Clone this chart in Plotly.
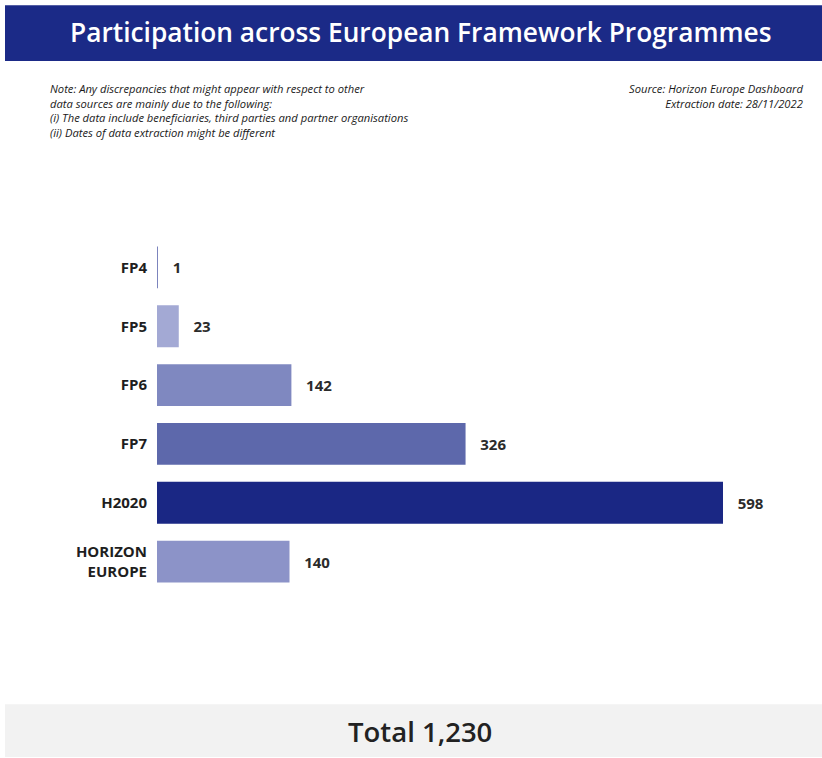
import plotly.graph_objects as go

programmes = ["FP4", "FP5", "FP6", "FP7", "H2020", "HORIZON<br>EUROPE"]
participations = [1, 23, 142, 326, 598, 140]
bar_colors = ["#7c84bd", "#a3a9d4", "#7f88c0", "#5d68ab", "#1a2784", "#8c93c8"]
total_label = "Total 1,230"
title_text = "Participation across European Framework Programmes"
note_lines = [
    "Note: Any discrepancies that might appear with respect to other",
    "data sources are mainly due to the following:",
    "(i) The data include beneficiaries, third parties and partner organisations",
    "(ii) Dates of data extraction might be different",
]
source_lines = ["Source: Horizon Europe Dashboard", "Extraction date: 28/11/2022"]

W, H = 822, 758
L, R, T, B = 157, 22, 237.5, 166.5
PW = W - L - R
PH = H - T - B
XMAX = 598 * PW / (723 - 157)


def xp(px):
    return (px - L) / PW


def yp(py):
    return (H - B - py) / PH


fig = go.Figure(
    go.Bar(
        x=participations,
        y=programmes,
        orientation="h",
        marker=dict(color=bar_colors, line=dict(width=0)),
        text=participations,
        texttemplate="\u00a0\u00a0\u00a0%{x}",
        textposition="outside",
        textfont=dict(family="Open Sans", size=15, color="#2b2b2b", weight=700),
        cliponaxis=False,
        hoverinfo="skip",
    )
)

font_note = "Open Sans, sans-serif"
note_size = 11.2
annotations = [
    dict(x=xp(421), y=yp(31), text=title_text,
         font=dict(family="Open Sans", size=26.3, color="white", weight=600),
         xanchor="center", yanchor="middle"),
    dict(x=xp(420), y=yp(732), text=total_label,
         font=dict(family="Open Sans", size=27.5, color="#222222", weight=600),
         xanchor="center", yanchor="middle"),
    dict(x=xp(48), y=yp(78), text="<br>".join("<i>" + s + "</i>" for s in note_lines),
         xanchor="left", yanchor="top", align="left",
         font=dict(family=font_note, size=note_size, color="#1a1a1a")),
    dict(x=xp(805), y=yp(78), text="<br>".join("<i>" + s + "</i>" for s in source_lines),
         xanchor="right", yanchor="top", align="right",
         font=dict(family=font_note, size=note_size, color="#1a1a1a")),
]
for a in annotations:
    a.update(xref="paper", yref="paper", showarrow=False)

shapes = [
    dict(type="rect", xref="paper", yref="paper", x0=xp(5), x1=xp(822), y0=yp(60), y1=yp(4),
         fillcolor="#1b2a87", line=dict(width=0), layer="below"),
    dict(type="rect", xref="paper", yref="paper", x0=xp(5), x1=xp(822), y0=yp(758), y1=yp(705),
         fillcolor="#f2f2f2", line=dict(width=0), layer="below"),
]

fig.update_layout(
    width=W, height=H,
    margin=dict(l=L, r=R, t=T, b=B, pad=0),
    paper_bgcolor="white", plot_bgcolor="white",
    bargap=0.29,
    showlegend=False,
    xaxis=dict(range=[0, XMAX], visible=False, showgrid=False, zeroline=False, fixedrange=True),
    yaxis=dict(autorange="reversed", showgrid=False, zeroline=False, showline=False,
               ticks="", ticklabelstandoff=9,
               tickfont=dict(family="Open Sans", size=15, color="#1e1e1e", weight=700)),
    annotations=annotations,
    shapes=shapes,
)

fig.write_html("out.html")
